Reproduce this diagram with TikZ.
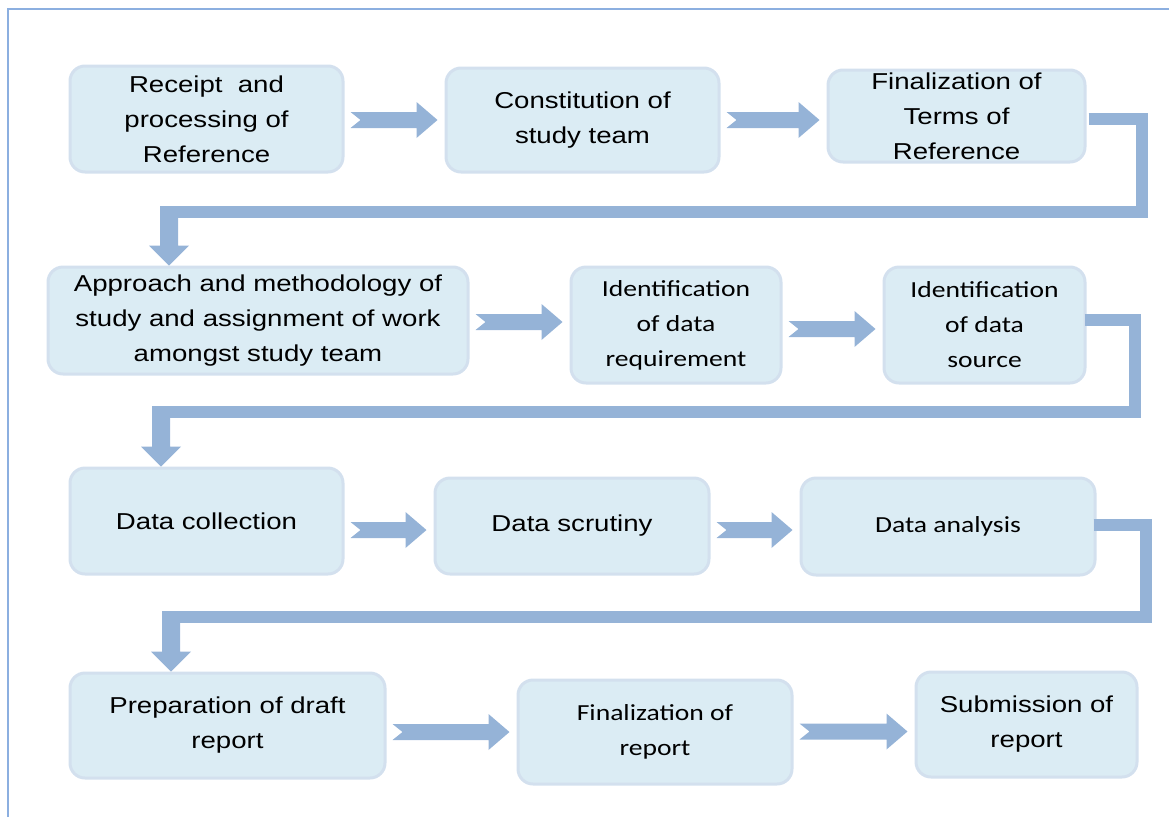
\documentclass[tikz,border=0pt]{standalone}
\usepackage{fontspec}
\setmainfont{Liberation Sans}[FakeStretch=1.2]
\newfontfamily\calib{Carlito}[FakeStretch=1.2]
\usetikzlibrary{calc}
\definecolor{boxfill}{HTML}{DBECF4}
\definecolor{boxline}{HTML}{D3E0EE}
\definecolor{arrowblue}{HTML}{95B3D7}
\definecolor{framblue}{HTML}{8CAFE0}
\tikzset{
  stage/.style={draw=boxline, fill=boxfill, line width=3pt, rounded corners=15pt,
    align=center, inner sep=0pt, font=\fontsize{23}{35}\selectfont},
  stagec/.style={stage, font=\calib\fontsize{23}{35}\selectfont},
  turnline/.style={draw=arrowblue, line width=12pt}
}
% block arrow between two boxes of a row (optional: drop below the target's centre)
\newcommand{\flowarrow}[3][0]{%
  \fill[arrowblue] let \p1=(#2.east), \p2=(#3.west), \n1={\y2-#1pt} in
    (\x1+6pt,\n1+8pt) -- (\x2-28pt,\n1+8pt) -- (\x2-28pt,\n1+18pt) -- (\x2-7pt,\n1)
    -- (\x2-28pt,\n1-18pt) -- (\x2-28pt,\n1-8pt) -- (\x1+6pt,\n1-8pt) -- (\x1+16pt,\n1) -- cycle;}
% block arrow down into the next row
\newcommand{\dropdown}[2]{%
  \fill[arrowblue] let \p1=(#1), \p2=(#2.north) in
    (\x1-9pt,\y1) -- (\x1+9pt,\y1) -- (\x1+9pt,\y2+20pt) -- (\x1+20pt,\y2+20pt) -- (\x1,\y2)
    -- (\x1-20pt,\y2+20pt) -- (\x1-9pt,\y2+20pt) -- cycle;}
\begin{document}
\begin{tikzpicture}[x=1pt,y=-1pt]
\useasboundingbox (0,0) rectangle (1169,817);
\draw[framblue, line width=1.5pt] (8,817) -- (8,9) -- (1169,9);
%% first row
\node[stage, minimum width=273, minimum height=106] (rec) at (206.5,119) {Receipt\ \ and\\processing of\\Reference};
\node[stage, minimum width=273, minimum height=104] (team) at (582.5,120) {Constitution of\\study team};
\node[stage, minimum width=257, minimum height=92] (tor) at (956.5,116) {Finalization of\\Terms of\\Reference};
%% second row
\node[stage, minimum width=420, minimum height=107] (appr) at (258,320.5) {Approach and methodology of\\study and assignment of work\\amongst study team};
\node[stagec, minimum width=210, minimum height=116] (dreq) at (676,325) {Identification\\of data\\requirement};
\node[stagec, minimum width=201, minimum height=116] (dsrc) at (984.5,325) {Identification\\of data\\source};
%% third row
\node[stage, minimum width=273, minimum height=106] (coll) at (206.5,521) {Data collection};
\node[stage, minimum width=274, minimum height=96] (scru) at (572,526) {Data scrutiny};
\node[stagec, minimum width=294, minimum height=97] (anal) at (948,526.5) {Data analysis};
%% fourth row
\node[stage, minimum width=315, minimum height=105] (draft) at (227.5,725.5) {Preparation of draft\\report};
\node[stagec, minimum width=274, minimum height=104] (finrep) at (655,732) {Finalization of\\report};
\node[stage, minimum width=221, minimum height=105] (subm) at (1026.5,724.5) {Submission of\\report};
%% arrows in the rows
\flowarrow{rec}{team}
\flowarrow[4]{team}{tor}
\flowarrow[-3]{appr}{dreq}
\flowarrow[4]{dreq}{dsrc}
\flowarrow[4]{coll}{scru}
\flowarrow[3.5]{scru}{anal}
\flowarrow{draft}{finrep}
\flowarrow[7]{finrep}{subm}
%% turns to the next row
\coordinate (r1) at (1142,211.5);
\coordinate (l1) at (169,211.5);
\coordinate (r2) at (1134.5,412);
\coordinate (l2) at (161,412);
\coordinate (r3) at (1145.5,616.5);
\coordinate (l3) at (171,616.5);
\draw[turnline] ($(tor.east)+(2,3)$) -| (r1) -- ($(l1)+(-9,0)$);
\draw[turnline] ($(dsrc.east)+(-2,-5)$) -| (r2) -- ($(l2)+(-9,0)$);
\draw[turnline] ($(anal.east)+(-3,-1.5)$) -| (r3) -- ($(l3)+(-9,0)$);
\dropdown{l1}{appr}
\dropdown{l2}{coll}
\dropdown{l3}{draft}
\end{tikzpicture}
\end{document}
